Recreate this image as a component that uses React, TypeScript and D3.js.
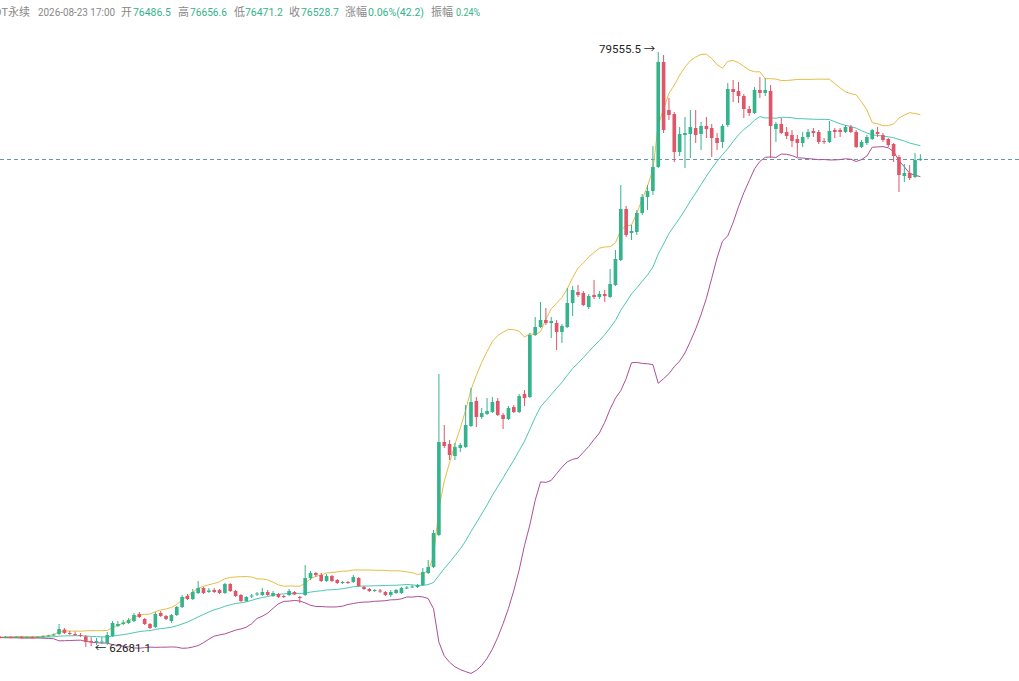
import React from 'react';
import * as d3 from 'd3';

// [open, high, low, close], oldest first
const candles: [number, number, number, number][] = [
  [62965, 62993, 62923, 62951], [62951, 62993, 62937, 62965], [62965, 62990, 62930, 62950], [62950, 62985, 62935, 62970],
  [62970, 62995, 62920, 62940], [62940, 62980, 62925, 62958], [62958, 62985, 62930, 62945], [62945, 62990, 62935, 62965],
  [62965, 63010, 62950, 62988], [62988, 63030, 62975, 63008], [63007, 63064, 62993, 63035], [63050, 63333, 63021, 63191],
  [63177, 63220, 63050, 63078], [63078, 63135, 63021, 63050], [63050, 63120, 62993, 63035], [63021, 63078, 62965, 62993],
  [62979, 63021, 62681.1, 62823], [62852, 62965, 62710, 62823], [62837, 62937, 62738, 62852], [62823, 62965, 62767, 62837],
  [62795, 63106, 62738, 63021], [62993, 63418, 62965, 63362], [63276, 63418, 63248, 63333], [63333, 63447, 63305, 63376],
  [63362, 63503, 63333, 63447], [63418, 63645, 63390, 63588], [63617, 63673, 63503, 63532], [63475, 63503, 63305, 63333],
  [63333, 63362, 63191, 63220], [63248, 63673, 63220, 63617], [63645, 63702, 63532, 63560], [63560, 63588, 63447, 63475],
  [63418, 63617, 63362, 63588], [63588, 63844, 63560, 63815], [63815, 64156, 63787, 64099], [64128, 64184, 64014, 64042],
  [64042, 64326, 64014, 64241], [64213, 64553, 64184, 64354], [64354, 64383, 64184, 64213], [64241, 64354, 64213, 64284],
  [64298, 64354, 64213, 64241], [64298, 64326, 64184, 64213], [64213, 64496, 64184, 64468], [64468, 64496, 64241, 64269],
  [64269, 64298, 64099, 64128], [64156, 64184, 63957, 63985], [63985, 64128, 63957, 64099], [64113, 64184, 64071, 64142],
  [64170, 64241, 64128, 64199], [64156, 64354, 64128, 64241], [64241, 64298, 64128, 64156], [64128, 64269, 64099, 64213],
  [64184, 64213, 64071, 64099], [64128, 64156, 64071, 64099], [64156, 64326, 64128, 64269], [64241, 64269, 64156, 64170],
  [64099, 64128, 63929, 64071], [64156, 65007, 64128, 64638], [64638, 64837, 64581, 64780], [64780, 64808, 64666, 64723],
  [64723, 64780, 64525, 64553], [64553, 64751, 64525, 64694], [64694, 64723, 64525, 64553], [64581, 64610, 64468, 64496],
  [64511, 64553, 64468, 64525], [64525, 64553, 64468, 64511], [64525, 64723, 64496, 64666], [64638, 64666, 64383, 64411],
  [64383, 64411, 64298, 64326], [64326, 64354, 64241, 64269], [64269, 64326, 64241, 64298], [64284, 64326, 64213, 64255],
  [64241, 64269, 64128, 64156], [64156, 64298, 64099, 64241], [64213, 64326, 64184, 64298], [64213, 64383, 64184, 64354],
  [64340, 64411, 64326, 64369], [64369, 64440, 64354, 64397], [64383, 64468, 64354, 64440], [64440, 64922, 64411, 64808],
  [64780, 65148, 64751, 64950], [64950, 65999, 64922, 65914], [65857, 70423, 65829, 68495], [68495, 68977, 68325, 68382],
  [68438, 68552, 67984, 68126], [68098, 68467, 67984, 68353], [68325, 68467, 68211, 68410], [68353, 69544, 68325, 68977],
  [68949, 70026, 68920, 69629], [69657, 69771, 68920, 69204], [69204, 69459, 69147, 69317], [69289, 69742, 69261, 69374],
  [69345, 69771, 69317, 69629], [69657, 69742, 69232, 69261], [69261, 69317, 68864, 69147], [69147, 69516, 69119, 69459],
  [69487, 69544, 69317, 69345], [69345, 69856, 69317, 69799], [69856, 69970, 69516, 69742], [69771, 71586, 69742, 71530],
  [71530, 72040, 71501, 71756], [71756, 72465, 71728, 71955], [71955, 72295, 71813, 71870], [71870, 72040, 71444, 71926],
  [71870, 71955, 71104, 71615], [71615, 71841, 71303, 71785], [71756, 72862, 71728, 72437], [72437, 72919, 72068, 72806],
  [72749, 72947, 72607, 72664], [72721, 72777, 72352, 72380], [72323, 72692, 72267, 72635], [72664, 73089, 72550, 72607],
  [72607, 72777, 72550, 72692], [72692, 72806, 72465, 72635], [72607, 73401, 72579, 72976], [72947, 73940, 72919, 73685],
  [73656, 75783, 73628, 75103], [75103, 75188, 74309, 74365], [74422, 74649, 74224, 74479], [74451, 75074, 74365, 74989],
  [74989, 75528, 74933, 75443], [75443, 75783, 75074, 75613], [75613, 76889, 75500, 76294], [76294, 79555.5, 76266, 79272],
  [79272, 79470, 77258, 77343], [77910, 78251, 77627, 77769], [77797, 77854, 76436, 76719], [76719, 77428, 76606, 77230],
  [77201, 77712, 76266, 77258], [77230, 77910, 76549, 77428], [77400, 77910, 76974, 77201], [77230, 77570, 76776, 77457],
  [77457, 77712, 77116, 77372], [77400, 77514, 76577, 77116], [77116, 77258, 76776, 76974], [77003, 77514, 76833, 77457],
  [77485, 78676, 77428, 78506], [78506, 78761, 78137, 78421], [78449, 78704, 78109, 78307], [78307, 78364, 77684, 77939],
  [77939, 78024, 77741, 77825], [77825, 78563, 77797, 78478], [78478, 78846, 78251, 78393], [78393, 78818, 78307, 78478],
  [78449, 78619, 76549, 77457], [77372, 77570, 77003, 77514], [77514, 77684, 77230, 77258], [77287, 77428, 77088, 77173],
  [77201, 77343, 76861, 77031], [77088, 77201, 76577, 76974], [76974, 77287, 76861, 77145], [77145, 77372, 77088, 77287],
  [77315, 77400, 77145, 77258], [77287, 77343, 76946, 77003], [77031, 77116, 76946, 77003], [77003, 77598, 76974, 77315],
  [77343, 77400, 77116, 77287], [77343, 77400, 77145, 77287], [77287, 77485, 77258, 77428], [77428, 77485, 77258, 77287],
  [77287, 77343, 76833, 76861], [76861, 77060, 76833, 77003], [76974, 77201, 76918, 77145], [77088, 77372, 77060, 77343],
  [77287, 77428, 77145, 77230], [77201, 77258, 77003, 77060], [77088, 77116, 76861, 76918], [76946, 76974, 76436, 76606],
  [76577, 76634, 75585, 76067], [76039, 76379, 75869, 76124], [76124, 76351, 75925, 75982], [76010, 76691, 75982, 76492],
  [76486.5, 76656.6, 76471.2, 76528.7],
];

const symbol = 'BTCUSDT永续';
const timeLabel = '2026-08-23 17:00';
const headerLabels = ['开', '高', '低', '收', '涨幅', '振幅'];
const headerValues = ['76486.5', '76656.6', '76471.2', '76528.7', '0.06%(42.2)', '0.24%'];

const bollPeriod = 20;
const bollMult = 2;

const W = 1019;
const H = 681;
const UP = '#35b38c';
const DOWN = '#de5668';

// header layout (x, width) of each piece
const labelX = [121, 178, 234, 289, 345, 431];
const valueX = [133, 190, 245, 301, 368, 456];
const valueW = [38, 37, 38, 38, 56, 24];

function boll(closes: number[]) {
  return closes.map((_, i) => {
    const win = closes.slice(Math.max(0, i - bollPeriod + 1), i + 1);
    const mean = d3.mean(win) as number;
    const sd = Math.sqrt(d3.mean(win, v => (v - mean) ** 2) as number);
    return {mid: mean, up: mean + bollMult * sd, low: mean - bollMult * sd};
  });
}

export default function App() {
  const idx = candles.map((_, i) => i);
  const x = d3.scaleBand<number>().domain(idx).range([-1.6, 922.2]).paddingInner(0.32);
  const cx = (i: number) => (x(i) as number) + x.bandwidth() / 2;

  const lows = candles.map(d => d[2]);
  const highs = candles.map(d => d[1]);
  const closes = candles.map(d => d[3]);
  const y = d3.scaleLinear()
    .domain([d3.min(lows) as number, d3.max(highs) as number])
    .range([647, 52]);

  const bands = boll(closes);
  const line = (key: 'mid' | 'up' | 'low') =>
    d3.line<{mid: number; up: number; low: number}>()
      .x((_, i) => cx(i))
      .y(d => y(d[key]))(bands) as string;

  const iMax = d3.maxIndex(highs);
  const iMin = d3.minIndex(lows);
  const last = candles[candles.length - 1];
  const lastY = Math.round(y(last[3])) + 0.5;

  const font = "Roboto, 'Noto Sans CJK SC', sans-serif";

  return (
    <svg width={W} height={H} style={{position: 'absolute', left: 0, top: 0, background: '#fff'}}>
      <g fontFamily={font} fontSize={11}>
        <text x={30} y={16} textAnchor="end" fill="#888">{symbol}</text>
        <text x={38} y={16} fill="#888" fontSize={10} textLength={77} lengthAdjust="spacingAndGlyphs">{timeLabel}</text>
        {headerLabels.map((l, i) => (
          <text key={l} x={labelX[i]} y={16} fill="#888">{l}</text>
        ))}
        {headerValues.map((v, i) => (
          <text key={v} x={valueX[i]} y={16} fill={UP} fontSize={10.5} textLength={valueW[i]} lengthAdjust="spacingAndGlyphs">{v}</text>
        ))}
      </g>

      <line x1={0} x2={W} y1={lastY} y2={lastY} stroke="#6a95a6" strokeDasharray="4,3" />

      <path d={line('up')} fill="none" stroke="#e6bd45" strokeWidth={1} />
      <path d={line('mid')} fill="none" stroke="#4cc8b2" strokeWidth={1} />
      <path d={line('low')} fill="none" stroke="#ad4f98" strokeWidth={1} />

      {candles.map(([o, h, l, c], i) => {
        const col = c >= o ? UP : DOWN;
        const top = y(Math.max(o, c));
        const bh = Math.max(1, y(Math.min(o, c)) - top);
        return (
          <g key={i}>
            <line x1={cx(i)} x2={cx(i)} y1={y(h)} y2={y(l)} stroke={col} strokeWidth={1} />
            <rect x={x(i)} y={top} width={x.bandwidth()} height={bh} fill={col} />
          </g>
        );
      })}

      <g fontFamily={font} fontSize={11.5} fill="#222">
        <text x={cx(iMax) - 3} y={y(highs[iMax]) + 1} textAnchor="end">{`${highs[iMax]} →`}</text>
        <text x={cx(iMin) + 9} y={y(lows[iMin]) + 5}>{`← ${lows[iMin]}`}</text>
      </g>
    </svg>
  );
}
